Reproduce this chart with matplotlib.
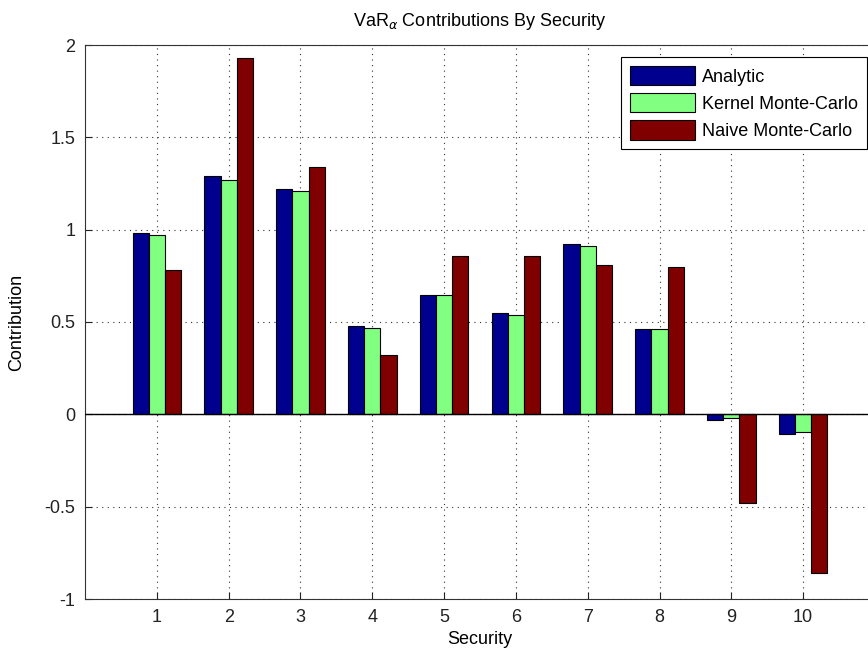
import matplotlib.pyplot as plt
import numpy as np

# VaR contributions per security
securities = np.arange(1, 11)
analytic = [0.98, 1.29, 1.22, 0.48, 0.645, 0.55, 0.92, 0.46, -0.03, -0.105]
kernel_mc = [0.97, 1.27, 1.21, 0.47, 0.645, 0.54, 0.91, 0.46, -0.02, -0.095]
naive_mc = [0.78, 1.93, 1.34, 0.32, 0.855, 0.855, 0.81, 0.80, -0.48, -0.86]

plt.rcParams['font.family'] = ['Liberation Sans', 'DejaVu Sans']

fig = plt.figure(figsize=(8.68, 6.58), dpi=100)
ax = fig.add_axes([85 / 868, 1 - 599 / 658, 790 / 868, 554 / 658])

w = 0.225
ax.bar(securities - w, analytic, w, color='#00008F', edgecolor='black', linewidth=0.8, label='Analytic', zorder=3)
ax.bar(securities, kernel_mc, w, color='#80FF80', edgecolor='black', linewidth=0.8, label='Kernel Monte-Carlo', zorder=3)
ax.bar(securities + w, naive_mc, w, color='#800000', edgecolor='black', linewidth=0.8, label='Naive Monte-Carlo', zorder=3)
ax.axhline(0, color='black', linewidth=1, zorder=4)

ax.set_xlim(0, 11)
ax.set_ylim(-1, 2)
ax.set_xticks(securities)
ax.set_yticks([-1, -0.5, 0, 0.5, 1, 1.5, 2])
ax.set_yticklabels(['-1', '-0.5', '0', '0.5', '1', '1.5', '2'])
ax.tick_params(direction='in', length=5, labelsize=13, colors='#222222', pad=7)
ax.grid(linestyle=(0, (1, 4)), color='#333333', linewidth=0.8)
ax.set_axisbelow(True)
for s in ax.spines.values():
    s.set_color('#333333')

ax.set_xlabel('Security', fontsize=13, labelpad=4)
ax.set_ylabel('Contribution', fontsize=13, labelpad=14)
ax.set_title(r'VaR$_\alpha$ Contributions By Security', fontsize=13, pad=14)

leg = ax.legend(loc='upper right', bbox_to_anchor=(782 / 790, 0.979), fontsize=13,
                fancybox=False, edgecolor='black', framealpha=1,
                handlelength=3.6, handleheight=1.3, borderpad=0.5, labelspacing=0.4,
                handletextpad=0.4, borderaxespad=0)
leg.get_frame().set_linewidth(0.8)

fig.savefig('out.png', dpi=100)
